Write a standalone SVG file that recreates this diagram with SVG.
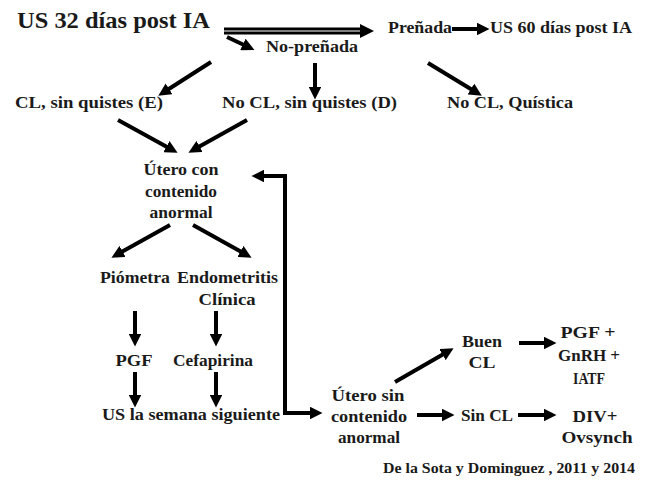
<svg xmlns="http://www.w3.org/2000/svg" width="647" height="483" viewBox="0 0 647 483">
<defs>
<marker id="ah" viewBox="0 0 10 10" refX="1" refY="5" markerWidth="3.2" markerHeight="3.2" markerUnits="strokeWidth" orient="auto-start-reverse">
<path d="M0,0 L10,5 L0,10 z" fill="#000"/>
</marker>
</defs>
<style>
text{font-family:"Liberation Serif","Times New Roman",serif;font-weight:bold;font-size:16px;fill:#1a1a1a}
.c{text-anchor:middle}
.title{font-size:23px}
.cite{font-size:14px}
.a{stroke:#000;stroke-width:4;fill:none;marker-end:url(#ah)}
</style>
<rect width="647" height="483" fill="#fff"/>
<g id="connectors">
<line x1="224" y1="31" x2="361" y2="31" stroke="#000" stroke-width="7"/>
<line x1="224" y1="31" x2="362" y2="31" stroke="#fff" stroke-width="1.2"/>
<path d="M360,24 L374,31 L360,38 z" fill="#000"/>
<line class="a" x1="227" y1="37" x2="244" y2="45"/>
<line class="a" x1="452" y1="29" x2="478" y2="29"/>
<line class="a" x1="211" y1="62" x2="168" y2="89.5"/>
<line class="a" x1="315" y1="63" x2="315" y2="88"/>
<line class="a" x1="428" y1="63" x2="472" y2="89.7"/>
<line class="a" x1="118" y1="120" x2="167.5" y2="147.2"/>
<line class="a" x1="247" y1="120" x2="198.5" y2="147.1"/>
<path class="a" d="M263,176 H285 V413 H311" marker-start="url(#ah)"/>
<line class="a" x1="170" y1="225" x2="121.5" y2="252.1"/>
<line class="a" x1="193" y1="225" x2="241.5" y2="252.1"/>
<line class="a" x1="135" y1="311" x2="135" y2="335"/>
<line class="a" x1="216" y1="311" x2="216" y2="335"/>
<line class="a" x1="135" y1="372" x2="135" y2="396"/>
<line class="a" x1="216" y1="372" x2="216" y2="396"/>
<line class="a" x1="395" y1="382" x2="443.6" y2="354"/>
<line class="a" x1="519" y1="343" x2="545" y2="343"/>
<line class="a" x1="417" y1="415" x2="443" y2="415"/>
<line class="a" x1="518" y1="415" x2="545" y2="415"/>
</g>
<g id="n-title"><text class="title" x="17" y="28" textLength="193" lengthAdjust="spacingAndGlyphs">US 32 días post IA</text></g>
<g id="n-prenada"><text x="388" y="33" textLength="64" lengthAdjust="spacingAndGlyphs">Preñada</text></g>
<g id="n-us60"><text x="490" y="33" textLength="142" lengthAdjust="spacingAndGlyphs">US 60 días post IA</text></g>
<g id="n-noprenada"><text x="266" y="52" textLength="92" lengthAdjust="spacingAndGlyphs">No-preñada</text></g>
<g id="n-cle"><text x="15" y="108" textLength="148" lengthAdjust="spacingAndGlyphs">CL, sin quistes (E)</text></g>
<g id="n-nocld"><text x="222" y="108" textLength="175" lengthAdjust="spacingAndGlyphs">No CL, sin quistes (D)</text></g>
<g id="n-quistica"><text x="447" y="108" textLength="126" lengthAdjust="spacingAndGlyphs">No CL, Quística</text></g>
<g id="n-utero-con">
<text class="c" x="181" y="175" textLength="75" lengthAdjust="spacingAndGlyphs">Útero con</text>
<text class="c" x="181" y="197" textLength="72" lengthAdjust="spacingAndGlyphs">contenido</text>
<text class="c" x="181" y="218" textLength="63" lengthAdjust="spacingAndGlyphs">anormal</text>
</g>
<g id="n-piometra"><text x="100" y="283" textLength="70" lengthAdjust="spacingAndGlyphs">Piómetra</text></g>
<g id="n-endometritis">
<text x="177" y="283" textLength="101" lengthAdjust="spacingAndGlyphs">Endometritis</text>
<text class="c" x="227" y="305" textLength="57" lengthAdjust="spacingAndGlyphs">Clínica</text>
</g>
<g id="n-pgf"><text class="c" x="134" y="366" textLength="37" lengthAdjust="spacingAndGlyphs">PGF</text></g>
<g id="n-cefapirina"><text class="c" x="213" y="366" textLength="80" lengthAdjust="spacingAndGlyphs">Cefapirina</text></g>
<g id="n-us-semana"><text x="102" y="420" textLength="178" lengthAdjust="spacingAndGlyphs">US la semana siguiente</text></g>
<g id="n-utero-sin">
<text class="c" x="368" y="401" textLength="73" lengthAdjust="spacingAndGlyphs">Útero sin</text>
<text class="c" x="369" y="422" textLength="76" lengthAdjust="spacingAndGlyphs">contenido</text>
<text class="c" x="369" y="443" textLength="62" lengthAdjust="spacingAndGlyphs">anormal</text>
</g>
<g id="n-buencl">
<text class="c" x="482" y="347" textLength="40" lengthAdjust="spacingAndGlyphs">Buen</text>
<text class="c" x="482" y="368" textLength="27" lengthAdjust="spacingAndGlyphs">CL</text>
</g>
<g id="n-pgf-gnrh">
<text class="c" x="588" y="338" textLength="55" lengthAdjust="spacingAndGlyphs">PGF +</text>
<text class="c" x="589" y="361" textLength="62" lengthAdjust="spacingAndGlyphs">GnRH +</text>
<text class="c" x="589" y="384" textLength="32" lengthAdjust="spacingAndGlyphs">IATF</text>
</g>
<g id="n-sincl"><text x="461" y="421" textLength="52" lengthAdjust="spacingAndGlyphs">Sin CL</text></g>
<g id="n-div">
<text class="c" x="595" y="422" textLength="45" lengthAdjust="spacingAndGlyphs">DIV+</text>
<text class="c" x="597" y="443" textLength="71" lengthAdjust="spacingAndGlyphs">Ovsynch</text>
</g>
<g id="n-cite"><text class="cite" x="383" y="473" textLength="252" lengthAdjust="spacingAndGlyphs">De la Sota y Dominguez , 2011 y 2014</text></g>
</svg>
